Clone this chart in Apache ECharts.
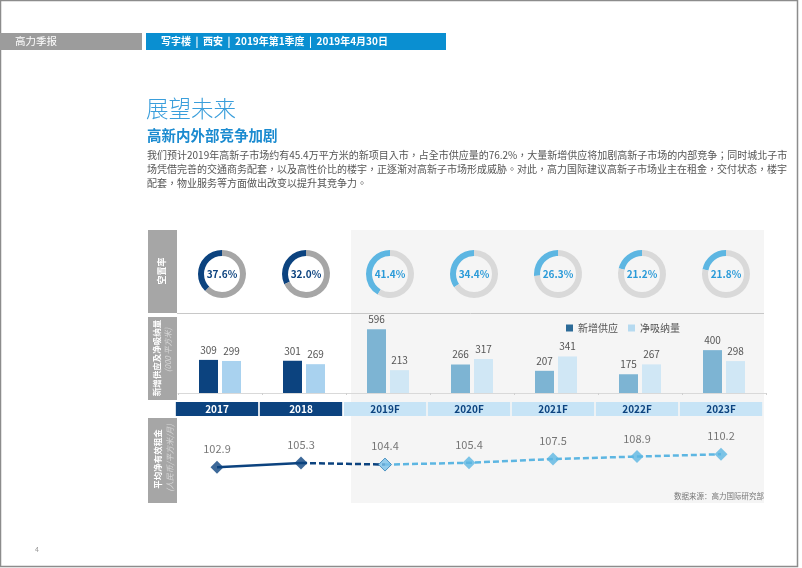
<!DOCTYPE html>
<html><head><meta charset="utf-8">
<script src="https://cdn.jsdelivr.net/npm/echarts@6/dist/echarts.min.js"></script>
<style>html,body{margin:0;padding:0;background:#fff}#c{width:802px;height:568px}</style>
</head><body><div id="c"></div>
<script>
// ---- data ----
const years = ['2017','2018','2019F','2020F','2021F','2022F','2023F'];
const isForecast = [false,false,true,true,true,true,true];
const vacancy = [37.6,32.0,41.4,34.4,26.3,21.2,21.8];
const newSupply = [309,301,596,266,207,175,400];
const netAbsorption = [299,269,213,317,341,267,298];
const rent = [102.9,105.3,104.4,105.4,107.5,108.9,110.2];
const seriesNames = ['新增供应','净吸纳量'];

// ---- layout / style ----
const F = '"Noto Sans CJK SC","Noto Sans",sans-serif';
const FTC = '"Noto Sans CJK TC","Noto Sans",sans-serif';
const C = {
  navy:'#0c437f', histLight:'#a9d2ef', fcDark:'#7db4d3', fcLight:'#d0e7f5',
  ringHistRest:'#a6a6a6', ringFc:'#5db6e2', ringFcRest:'#d9d9d9',
  fcText:'#2a9ad8', band:'#c7e4f6', gray:'#a6a6a6', text:'#555'
};
const barLeft = 178, barWidthTotal = 588;
const cellW = barWidthTotal / years.length;
const donutY = 274;
const lastHist = isForecast.lastIndexOf(false);

const chart = echarts.init(document.getElementById('c'), null, {renderer:'canvas'});

const pies = vacancy.map((v,i)=>({
  type:'pie', silent:true, clockwise:false, startAngle:90,
  radius:[18,24], center:[barLeft + (i+0.5)*cellW + 2, donutY],
  label:{show:false}, labelLine:{show:false}, emphasis:{disabled:true},
  data:[
    {value:v, itemStyle:{color: isForecast[i]?C.ringFc:C.navy},
     label:{show:true, position:'center', formatter: v.toFixed(1)+'%',
       fontFamily:F, fontSize:10, fontWeight:'bold', color: isForecast[i]?C.fcText:C.navy}},
    {value:100-v, itemStyle:{color: isForecast[i]?C.ringFcRest:C.ringHistRest}}
  ]
}));

const solid = rent.map((v,i)=> i<=lastHist ? v : null);
const dashDark = rent.map((v,i)=> (i===lastHist||i===lastHist+1) ? v : null);
const dashLight = rent.map((v,i)=> i>lastHist ? v : null);

const option = {
  animation:false,
  textStyle:{fontFamily:F},
  legend:{
    data:seriesNames, left:561, top:318, itemWidth:7, itemHeight:7, itemGap:10,
    icon:'rect', textStyle:{fontSize:10, color:C.text, fontFamily:F}, selectedMode:false
  },
  grid:[
    {left:barLeft, width:barWidthTotal, top:318, height:75},
    {left:175, width:588, top:402, height:14},
    {left:175, width:588, top:419, height:89}
  ],
  xAxis:[
    {gridIndex:0, type:'category', data:years, axisLabel:{show:false},
     axisLine:{lineStyle:{color:'#d9d9d9'}}, axisTick:{show:true, length:2, lineStyle:{color:'#d0d0d0'}}},
    {gridIndex:1, type:'category', data:years, show:false},
    {gridIndex:2, type:'category', data:years, show:false, boundaryGap:true}
  ],
  yAxis:[
    {gridIndex:0, type:'value', min:0, max:700, show:false},
    {gridIndex:1, type:'value', min:0, max:1, show:false},
    {gridIndex:2, type:'value', min:80, max:130, show:false}
  ],
  series:[
    {name:seriesNames[0], type:'bar', xAxisIndex:0, yAxisIndex:0, barWidth:19, barGap:'21%',
     itemStyle:{color:'#2c6b98'},
     label:{show:true, position:'top', distance:5, fontSize:10, color:C.text, fontFamily:F},
     data:newSupply.map((v,i)=>({value:v, itemStyle:{color:isForecast[i]?C.fcDark:C.navy}}))},
    {name:seriesNames[1], type:'bar', xAxisIndex:0, yAxisIndex:0, barWidth:19,
     itemStyle:{color:'#b6daf0'},
     label:{show:true, position:'top', distance:5, fontSize:10, color:C.text, fontFamily:F},
     data:netAbsorption.map((v,i)=>({value:v, itemStyle:{color:isForecast[i]?C.fcLight:C.histLight}}))},
    {type:'bar', xAxisIndex:1, yAxisIndex:1, barCategoryGap:'2%', silent:true,
     data:years.map((y,i)=>({value:1, itemStyle:{color:isForecast[i]?C.band:C.navy},
       label:{show:true, position:'inside', formatter:y, fontFamily:F, fontSize:10, fontWeight:'bold',
         color:isForecast[i]?C.navy:'#fff'}}))},
    {type:'line', xAxisIndex:2, yAxisIndex:2, data:solid, symbol:'none', silent:true,
     lineStyle:{color:C.navy, width:2.5}},
    {type:'line', xAxisIndex:2, yAxisIndex:2, data:dashDark, symbol:'none', silent:true,
     lineStyle:{color:C.navy, width:2.5, type:[6,3]}},
    {type:'line', xAxisIndex:2, yAxisIndex:2, data:dashLight, symbol:'none', silent:true,
     lineStyle:{color:C.ringFc, width:2.5, type:[6,3]}},
    {type:'scatter', xAxisIndex:2, yAxisIndex:2, symbol:'diamond', symbolSize:13, z:5, silent:true,
     label:{show:true, position:'top', distance:6, fontSize:11, color:C.text, fontFamily:F,
       formatter:p=>p.value.toFixed(1)},
     data:rent.map((v,i)=>({value:v, itemStyle: i<=lastHist ? {color:C.navy}
       : (i===lastHist+1 ? {color:'#7cc2ea', borderColor:'#2f7fb5', borderWidth:1} : {color:C.ringFc})}))},
    ...pies
  ],
  graphic:[
    {type:'rect', z:-10, shape:{x:351, y:230, width:413, height:273}, style:{fill:'#f5f5f5'}},
    {type:'rect', shape:{x:0.5, y:0.5, width:797, height:566}, style:{fill:null, stroke:'#8c8c8c', lineWidth:1.5}},
    // header
    {type:'rect', shape:{x:0, y:33, width:142, height:17}, style:{fill:'#9c9c9c'}},
    {type:'text', x:15, y:41.5, style:{text:'高力季报', fill:'#fff', fontSize:10.5, fontFamily:F, verticalAlign:'middle'}},
    {type:'rect', shape:{x:146, y:33, width:300, height:17}, style:{fill:'#0a8fd1'}},
    {type:'text', x:161, y:41.5, style:{text:'写字楼  |  西安  |  2019年第1季度  |  2019年4月30日', fill:'#fff', fontSize:10, fontWeight:'bold', fontFamily:F, verticalAlign:'middle'}},
    // title block
    {type:'text', x:146, y:108, style:{text:'展望未来', fill:'#3a9edb', fontSize:22.5, fontWeight:300, fontFamily:F, verticalAlign:'middle'}},
    {type:'text', x:147, y:135, style:{text:'高新内外部竞争加剧', fill:'#1b8bd0', fontSize:14.5, fontWeight:'bold', fontFamily:F, verticalAlign:'middle'}},
    {type:'text', x:147, y:155, style:{text:'我们预计2019年高新子市场约有45.4万平方米的新项目入市，占全市供应量的76.2%，大量新增供应将加剧高新子市场的内部竞争；同时城北子市', fill:C.text, fontSize:10, fontFamily:FTC, verticalAlign:'middle'}},
    {type:'text', x:147, y:169, style:{text:'场凭借完善的交通商务配套，以及高性价比的楼宇，正逐渐对高新子市场形成威胁。对此，高力国际建议高新子市场业主在租金，交付状态，楼宇', fill:C.text, fontSize:10, fontFamily:FTC, verticalAlign:'middle'}},
    {type:'text', x:147, y:183, style:{text:'配套，物业服务等方面做出改变以提升其竞争力。', fill:C.text, fontSize:10, fontFamily:FTC, verticalAlign:'middle'}},
    // left label boxes
    {type:'rect', shape:{x:148, y:230, width:29, height:83}, style:{fill:C.gray}},
    {type:'rect', shape:{x:148, y:317, width:29, height:83}, style:{fill:C.gray}},
    {type:'rect', shape:{x:148, y:418, width:29, height:85}, style:{fill:C.gray}},
    {type:'text', x:162, y:271, rotation:Math.PI/2, style:{text:'空置率', fill:'#fff', fontSize:9, fontWeight:'bold', fontFamily:F, align:'center', verticalAlign:'middle'}},
    {type:'text', x:157, y:358, rotation:Math.PI/2, style:{text:'新增供应及净吸纳量', fill:'#fff', fontSize:8.5, fontWeight:'bold', fontFamily:F, align:'center', verticalAlign:'middle'}},
    {type:'text', x:168, y:350, rotation:Math.PI/2, style:{text:'(000 平方米)', fill:'#d6d6d6', fontSize:8, fontStyle:'italic', fontFamily:F, align:'center', verticalAlign:'middle'}},
    {type:'text', x:158, y:459, rotation:Math.PI/2, style:{text:'平均净有效租金', fill:'#fff', fontSize:8.5, fontWeight:'bold', fontFamily:F, align:'center', verticalAlign:'middle'}},
    {type:'text', x:170, y:458, rotation:Math.PI/2, style:{text:'(人民币/平方米/月)', fill:'#d6d6d6', fontSize:8, fontStyle:'italic', fontFamily:F, align:'center', verticalAlign:'middle'}},
    // separator
    {type:'line', shape:{x1:177, y1:313.5, x2:764, y2:313.5}, style:{stroke:'#c8c8c8', lineWidth:1}},
    // source + page
    {type:'text', x:764, y:496, style:{text:'数据来源：高力国际研究部', fill:'#777', fontSize:7.5, fontFamily:F, align:'right', verticalAlign:'middle'}},
    {type:'text', x:35, y:549, style:{text:'4', fill:'#999', fontSize:7, fontFamily:F, verticalAlign:'middle'}}
  ]
};
chart.setOption(option);
</script></body></html>
